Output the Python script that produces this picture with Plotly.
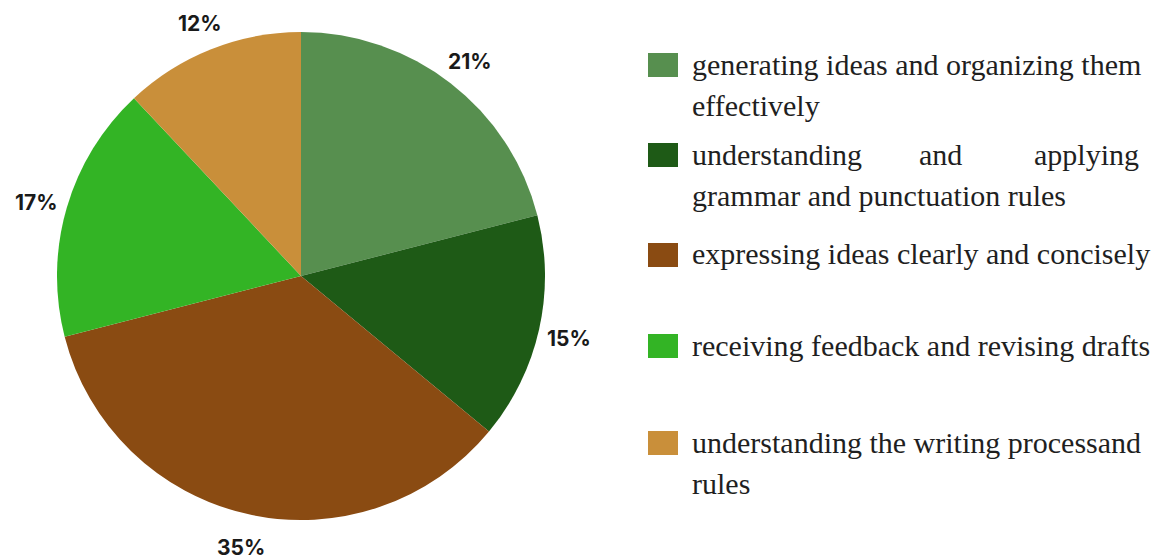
import math
import plotly.graph_objects as go

# Survey shares: difficulties reported in academic writing
categories = [
    "generating ideas and organizing them effectively",
    "understanding and applying grammar and punctuation rules",
    "expressing ideas clearly and concisely",
    "receiving feedback and revising drafts",
    "understanding the writing processand rules",
]
shares = [21, 15, 35, 17, 12]
colors = ["#578F4F", "#1E5A16", "#8A4B12", "#33B425", "#C98F3A"]

# Legend text lines per category (wrapped like a justified paragraph)
legend_lines = [
    [["generating ideas and organizing them"], ["effectively"]],
    [["understanding", "and", "applying"], ["grammar and punctuation rules"]],
    [["expressing ideas clearly and concisely"]],
    [["receiving feedback and revising drafts"]],
    [["understanding the writing processand"], ["rules"]],
]

W, H = 1152, 560
# Pie placement in pixels
cx, cy, radius = 301, 276, 244
label_radius = 275
label_drop = 3

fig = go.Figure(
    go.Pie(
        labels=categories,
        values=shares,
        sort=False,
        direction="clockwise",
        rotation=0,
        marker=dict(colors=colors, line=dict(width=0)),
        textinfo="none",
        showlegend=False,
        hoverinfo="label+percent",
        domain=dict(x=[(cx - radius) / W, (cx + radius) / W],
                    y=[1 - (cy + radius) / H, 1 - (cy - radius) / H]),
    )
)

annotations = []

# Percentage labels just outside each slice, at the slice's mid-angle
total = sum(shares)
cum = 0
for v in shares:
    mid = (cum + v / 2) / total * 2 * math.pi
    cum += v
    px = cx + label_radius * math.sin(mid)
    py = cy + label_drop - label_radius * math.cos(mid)
    annotations.append(dict(
        text=f"{round(v / total * 100)}%", xref="paper", yref="paper",
        x=px / W, y=1 - py / H, xanchor="center", yanchor="middle",
        showarrow=False, borderpad=0,
        font=dict(family="Inter, Lato, sans-serif", size=21, color="#1a1a1a", weight="bold"),
    ))

# Custom legend: swatches plus serif text rows
row_tops = [53, 143, 243, 334, 431]
line_gap = 41
sw_x0, sw_x1 = 648, 678
text_left, text_right = 690, 1141
legend_font = dict(family="Liberation Serif, Times New Roman, serif", size=30, color="#1f1f1f")

shapes = []
for i, (color, lines) in enumerate(zip(colors, legend_lines)):
    top = row_tops[i]
    shapes.append(dict(
        type="rect", xref="paper", yref="paper",
        x0=sw_x0 / W, x1=sw_x1 / W, y0=1 - (top + 24) / H, y1=1 - top / H,
        fillcolor=color, line=dict(width=0),
    ))
    for j, words in enumerate(lines):
        yc = top + 11 + j * line_gap
        if len(words) == 1:
            annotations.append(dict(
                text=words[0], xref="paper", yref="paper",
                x=text_left / W, y=1 - yc / H, xanchor="left", yanchor="middle",
                showarrow=False, font=legend_font,
            ))
        else:
            n = len(words)
            for k, w in enumerate(words):
                if k == 0:
                    xa, xp = "left", text_left
                elif k == n - 1:
                    xa, xp = "right", text_right
                else:
                    xa, xp = "center", text_left + (text_right - text_left) * 0.555
                annotations.append(dict(
                    text=w, xref="paper", yref="paper",
                    x=xp / W, y=1 - yc / H, xanchor=xa, yanchor="middle",
                    showarrow=False, font=legend_font,
                ))

fig.update_layout(
    width=W, height=H,
    margin=dict(l=0, r=0, t=0, b=0),
    paper_bgcolor="white",
    plot_bgcolor="white",
    shapes=shapes,
    annotations=annotations,
)

fig.write_html("out.html")
